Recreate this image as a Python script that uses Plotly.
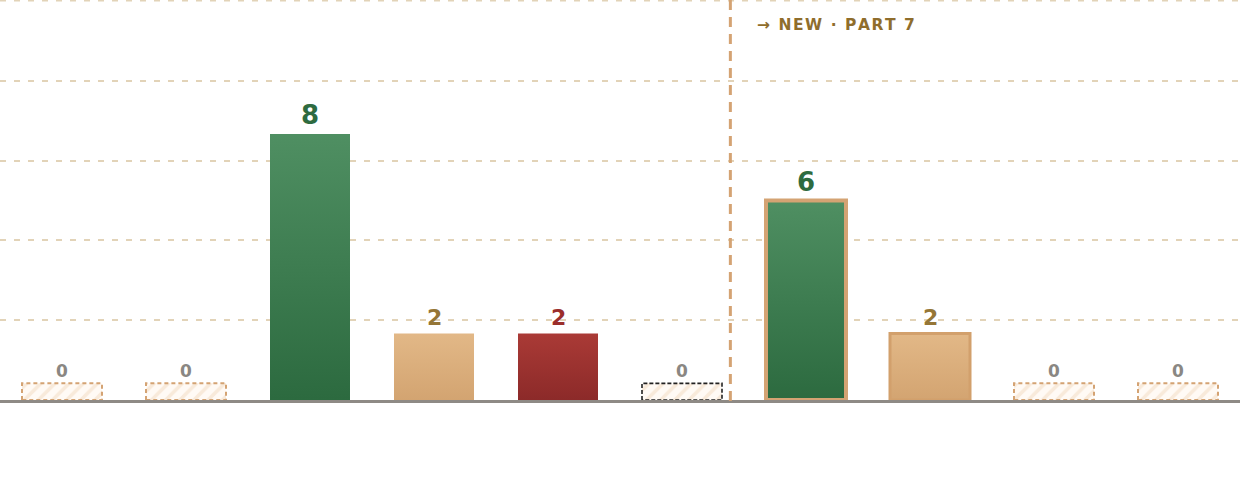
import plotly.graph_objects as go

# one bar per chapter, parts 1-10
parts = ['P1', 'P2', 'P3', 'P4', 'P5', 'P6', 'P7', 'P8', 'P9', 'P10']
counts = [0, 0, 8, 2, 2, 0, 6, 2, 0, 0]
status = ['none', 'none', 'pass', 'partial', 'fail', 'none', 'pass', 'partial', 'none', 'none']
is_new = [False, False, False, False, False, False, True, True, False, False]
selected = 5
divider_label = '→ NEW · PART 7'

# colours per status: (bottom, top, label)
styles = {
    'pass': ('#2c6a3f', '#4f8f62', '#2e6b40'),
    'partial': ('#d3a471', '#e2b887', '#957636'),
    'fail': ('#8c2a29', '#aa3a36', '#9b2e2b'),
}
tan = '#d4a373'
half = 0.3226
empty_h = 0.5

fig = go.Figure()

for i, (v, s) in enumerate(zip(counts, status)):
    xs = [i - half, i - half, i + half, i + half, i - half]
    if s == 'none':
        ys = [0, empty_h, empty_h, 0, 0]
        edge = '#222222' if i == selected else tan
        fig.add_trace(go.Scatter(
            x=xs, y=ys, mode='lines', fill='toself',
            fillcolor='rgba(0,0,0,0)',
            fillpattern=dict(shape='/', fgcolor='#f2d9c0', bgcolor='#fffaf5',
                             size=10, solidity=0.35),
            line=dict(color=edge, width=1.6 if i == selected else 2,
                      dash='4px,2px' if i == selected else '4px,3px'),
            hoverinfo='skip', showlegend=False))
        top = empty_h
        label, lc, fs, shift = '0', '#8a8783', 17, 0
    else:
        bottom, topc, lc = styles[s]
        ys = [0, v, v, 0, 0]
        if is_new[i]:
            line = dict(color=tan if s == 'pass' else '#d2a06c', width=4 if s == 'pass' else 3)
        else:
            line = dict(width=0, color=topc)
        fig.add_trace(go.Scatter(
            x=xs, y=ys, mode='lines', fill='toself',
            fillgradient=dict(type='vertical', colorscale=[[0, bottom], [1, topc]]),
            line=line, hoverinfo='skip', showlegend=False))
        top = v
        label = str(v)
        fs = 26 if v >= 5 else 22
        shift = 2
    fig.add_annotation(x=i, y=top, text='<b>' + label + '</b>', showarrow=False,
                       yanchor='bottom', yshift=shift,
                       font=dict(family='DejaVu Sans', size=fs, color=lc))

# divider before the new part; hair spaces give the label some letter spacing
divider_x = 5.39
fig.add_shape(type='line', xref='x', yref='paper', x0=divider_x, x1=divider_x,
              y0=1, y1=-0.018, line=dict(color=tan, width=3, dash='10px,7px'))
fig.add_annotation(xref='x', yref='paper', x=divider_x, y=1, xanchor='left', yanchor='top',
                   xshift=25, yshift=-14, showarrow=False,
                   text='<b>' + '\u200a'.join(divider_label) + '</b>',
                   font=dict(family='DejaVu Sans', size=15.5, color='#8f6d2c'))

# top gridline sits on the plot edge, plotly drops it there
fig.add_shape(type='line', xref='paper', yref='paper', x0=0, x1=1, y0=0.998, y1=0.998,
              line=dict(color='#e2d3b8', width=1.5, dash='6px,8px'), layer='below')

fig.update_layout(
    width=1240, height=480,
    margin=dict(l=0, r=0, t=0, b=80),
    paper_bgcolor='white', plot_bgcolor='white',
    xaxis=dict(range=[-0.5, 9.5], showticklabels=False, showgrid=False, zeroline=False,
               showline=True, linewidth=3, linecolor='#8e8a85', layer='below traces',
               ticks=''),
    yaxis=dict(range=[0, 12.03], tick0=0, dtick=2.4, showticklabels=False, zeroline=False,
               showgrid=True, gridcolor='#e2d3b8', gridwidth=1.5, griddash='6px,8px'),
)

fig.write_html("out.html", config={'displayModeBar': False},
               post_script="document.body.style.margin='0';")
